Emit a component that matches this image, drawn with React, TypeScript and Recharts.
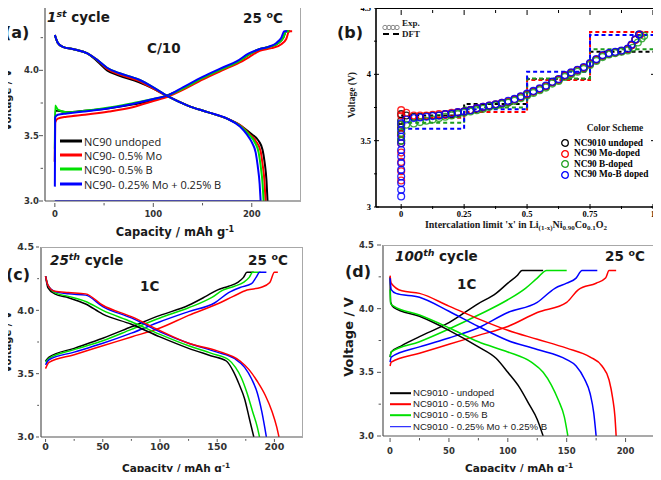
import React from 'react';
import { LineChart, Line, XAxis, YAxis } from 'recharts';

type Pt = [number, number];

// ---------- (a) 1st cycle, C/10 ----------
const aBlackCharge: Pt[] = [[0, 3.3], [0.3, 3.69], [3, 3.69], [12, 3.68], [30, 3.69], [55, 3.71], [80, 3.74], [100, 3.77], [115, 3.81], [130, 3.86], [150, 3.94], [170, 4.01], [185, 4.06], [197, 4.12], [207, 4.16], [218, 4.18], [227, 4.21], [232, 4.25], [235, 4.3], [239, 4.3]];
const aRedCharge: Pt[] = [[0, 3.3], [0.3, 3.6], [3, 3.63], [12, 3.645], [30, 3.66], [55, 3.685], [80, 3.72], [100, 3.765], [115, 3.8], [130, 3.85], [150, 3.93], [170, 4.0], [185, 4.05], [197, 4.1], [208, 4.15], [220, 4.17], [230, 4.2], [235, 4.24], [238, 4.3], [241, 4.3]];
const aGreenCharge: Pt[] = [[0, 3.4], [0.3, 3.73], [3, 3.7], [12, 3.68], [30, 3.69], [55, 3.715], [80, 3.75], [100, 3.78], [115, 3.81], [130, 3.86], [150, 3.94], [170, 4.01], [185, 4.06], [197, 4.12], [207, 4.16], [218, 4.18], [227, 4.21], [232, 4.25], [235, 4.3], [238, 4.3]];
const aBlueCharge: Pt[] = [[0, 3.11], [0.3, 3.64], [3, 3.66], [12, 3.67], [30, 3.685], [55, 3.71], [80, 3.745], [100, 3.78], [115, 3.81], [130, 3.87], [150, 3.95], [170, 4.02], [185, 4.07], [197, 4.13], [207, 4.16], [217, 4.18], [225, 4.21], [230, 4.25], [233, 4.3], [236, 4.3]];

const aBlackDis: Pt[] = [[0, 4.27], [3, 4.21], [8, 4.18], [20, 4.16], [33, 4.13], [43, 4.07], [53, 4.0], [65, 3.96], [85, 3.91], [100, 3.86], [115, 3.8], [135, 3.73], [155, 3.68], [175, 3.63], [190, 3.57], [200, 3.51], [207, 3.46], [211, 3.39], [213, 3.3], [215, 3.15], [216, 3.0]];
const aRedDis: Pt[] = [[0, 4.27], [3, 4.21], [8, 4.18], [20, 4.16], [33, 4.13], [43, 4.08], [53, 4.01], [65, 3.97], [85, 3.92], [100, 3.86], [115, 3.8], [135, 3.73], [155, 3.68], [175, 3.63], [190, 3.57], [198, 3.51], [204, 3.46], [209, 3.38], [211, 3.28], [213, 3.14], [214, 3.0]];
const aGreenDis: Pt[] = [[0, 4.27], [3, 4.21], [8, 4.18], [20, 4.16], [33, 4.13], [43, 4.08], [53, 4.02], [65, 3.98], [85, 3.93], [100, 3.87], [115, 3.8], [135, 3.73], [155, 3.68], [175, 3.63], [189, 3.57], [197, 3.51], [203, 3.45], [207, 3.37], [209, 3.27], [211, 3.13], [212, 3.0]];
const aBlueDis: Pt[] = [[0, 4.27], [3, 4.21], [8, 4.18], [20, 4.16], [33, 4.13], [43, 4.08], [53, 4.02], [65, 3.98], [85, 3.93], [100, 3.87], [115, 3.8], [135, 3.73], [155, 3.68], [175, 3.63], [188, 3.57], [195, 3.51], [200, 3.45], [204, 3.37], [206, 3.27], [208, 3.13], [209, 3.0]];
const aBlueBase: Pt[] = [[0, 3.0], [209, 3.0]];

// ---------- (b) Exp. vs DFT ----------
const bBlackExp: Pt[] = [[0, 3.5], [0, 3.55], [0, 3.6], [0, 3.65], [0, 3.7], [0.02, 3.69], [0.05, 3.68], [0.075, 3.68], [0.1, 3.685], [0.125, 3.69], [0.15, 3.69], [0.175, 3.7], [0.2, 3.7], [0.225, 3.71], [0.25, 3.72], [0.275, 3.73], [0.3, 3.74], [0.325, 3.75], [0.35, 3.76], [0.375, 3.77], [0.4, 3.78], [0.425, 3.79], [0.45, 3.81], [0.475, 3.83], [0.5, 3.85], [0.525, 3.87], [0.55, 3.89], [0.575, 3.91], [0.6, 3.94], [0.625, 3.96], [0.65, 3.99], [0.675, 4.01], [0.7, 4.03], [0.725, 4.05], [0.75, 4.08], [0.775, 4.11], [0.8, 4.14], [0.825, 4.155], [0.85, 4.165], [0.875, 4.175], [0.9, 4.19], [0.915, 4.22], [0.93, 4.26], [0.945, 4.3]];
const bRedExp: Pt[] = [[0, 3.2], [0, 3.27], [0, 3.34], [0, 3.41], [0, 3.48], [0, 3.55], [0, 3.62], [0, 3.69], [0, 3.73], [0.02, 3.71], [0.05, 3.69], [0.075, 3.69], [0.1, 3.69], [0.125, 3.695], [0.15, 3.7], [0.175, 3.7], [0.2, 3.71], [0.225, 3.715], [0.25, 3.72], [0.275, 3.73], [0.3, 3.745], [0.325, 3.755], [0.35, 3.765], [0.375, 3.775], [0.4, 3.785], [0.425, 3.795], [0.45, 3.81], [0.475, 3.83], [0.5, 3.85], [0.525, 3.87], [0.55, 3.89], [0.575, 3.91], [0.6, 3.94], [0.625, 3.96], [0.65, 3.99], [0.675, 4.01], [0.7, 4.03], [0.725, 4.05], [0.75, 4.08], [0.775, 4.11], [0.8, 4.14], [0.825, 4.155], [0.85, 4.165], [0.875, 4.175], [0.9, 4.19], [0.915, 4.22], [0.93, 4.26], [0.95, 4.3]];
const bGreenExp: Pt[] = [[0, 3.5], [0, 3.56], [0, 3.62], [0.02, 3.62], [0.05, 3.63], [0.075, 3.64], [0.1, 3.65], [0.125, 3.66], [0.15, 3.67], [0.175, 3.68], [0.2, 3.69], [0.225, 3.7], [0.25, 3.71], [0.275, 3.72], [0.3, 3.73], [0.325, 3.74], [0.35, 3.755], [0.375, 3.765], [0.4, 3.775], [0.425, 3.785], [0.45, 3.8], [0.475, 3.82], [0.5, 3.84], [0.525, 3.86], [0.55, 3.88], [0.575, 3.9], [0.6, 3.93], [0.625, 3.95], [0.65, 3.98], [0.675, 4.0], [0.7, 4.02], [0.725, 4.04], [0.75, 4.07], [0.775, 4.1], [0.8, 4.13], [0.825, 4.15], [0.85, 4.16], [0.875, 4.17], [0.9, 4.18], [0.92, 4.2], [0.94, 4.24], [0.955, 4.27], [0.965, 4.29]];
const bBlueExp: Pt[] = [[0, 3.08], [0, 3.13], [0, 3.18], [0, 3.23], [0, 3.28], [0, 3.33], [0, 3.38], [0, 3.43], [0, 3.48], [0, 3.53], [0, 3.58], [0, 3.63], [0.02, 3.66], [0.05, 3.67], [0.075, 3.675], [0.1, 3.68], [0.125, 3.685], [0.15, 3.69], [0.175, 3.7], [0.2, 3.705], [0.225, 3.715], [0.25, 3.72], [0.275, 3.73], [0.3, 3.745], [0.325, 3.755], [0.35, 3.765], [0.375, 3.775], [0.4, 3.785], [0.425, 3.8], [0.45, 3.815], [0.475, 3.835], [0.5, 3.855], [0.525, 3.875], [0.55, 3.895], [0.575, 3.915], [0.6, 3.945], [0.625, 3.965], [0.65, 3.995], [0.675, 4.015], [0.7, 4.035], [0.725, 4.055], [0.75, 4.085], [0.775, 4.115], [0.8, 4.145], [0.825, 4.16], [0.85, 4.17], [0.875, 4.18], [0.9, 4.195], [0.915, 4.225], [0.93, 4.265], [0.945, 4.3]];

const bBlackDft: Pt[] = [[0, 3.69], [0.25, 3.777], [0.5, 3.965], [0.75, 4.17], [1.02, 4.17]];
const bRedDft: Pt[] = [[0, 3.673], [0.25, 3.716], [0.5, 3.958], [0.75, 4.32], [1.02, 4.32]];
const bGreenDft: Pt[] = [[0, 3.635], [0.25, 3.75], [0.5, 3.968], [0.75, 4.19], [1.02, 4.19]];
const bBlueDft: Pt[] = [[0, 3.59], [0.25, 3.737], [0.5, 4.02], [0.75, 4.296], [1.02, 4.296]];

// ---------- (c) 25th cycle, 1C ----------
const cBlackCharge: Pt[] = [[0, 3.6], [3, 3.63], [25, 3.7], [50, 3.78], [75, 3.87], [100, 3.96], [125, 4.04], [140, 4.11], [150, 4.16], [160, 4.19], [168, 4.22], [173, 4.26], [176, 4.3], [182, 4.3]];
const cGreenCharge: Pt[] = [[0, 3.59], [3, 3.62], [25, 3.69], [50, 3.76], [75, 3.85], [100, 3.94], [125, 4.02], [145, 4.1], [155, 4.16], [165, 4.19], [173, 4.22], [178, 4.26], [181, 4.3], [188, 4.3]];
const cBlueCharge: Pt[] = [[0, 3.57], [3, 3.61], [25, 3.67], [50, 3.74], [75, 3.82], [100, 3.91], [125, 3.99], [148, 4.06], [160, 4.14], [170, 4.18], [180, 4.21], [184, 4.26], [187, 4.3], [193, 4.3]];
const cRedCharge: Pt[] = [[0, 3.54], [3, 3.59], [25, 3.65], [50, 3.72], [75, 3.79], [100, 3.86], [125, 3.96], [150, 4.05], [164, 4.11], [176, 4.16], [188, 4.18], [196, 4.22], [200, 4.3], [203, 4.3]];

const cBlackDis: Pt[] = [[0, 4.27], [2, 4.18], [8, 4.13], [20, 4.1], [35, 4.05], [50, 3.97], [75, 3.89], [100, 3.79], [125, 3.7], [145, 3.64], [158, 3.6], [164, 3.52], [169, 3.42], [174, 3.3], [178, 3.15], [182, 3.0]];
const cGreenDis: Pt[] = [[0, 4.27], [2, 4.2], [8, 4.14], [20, 4.11], [35, 4.07], [50, 4.0], [75, 3.91], [100, 3.81], [125, 3.72], [145, 3.66], [160, 3.61], [166, 3.55], [171, 3.47], [176, 3.35], [181, 3.2], [185, 3.08], [187, 3.0]];
const cBlueDis: Pt[] = [[0, 4.27], [2, 4.2], [8, 4.15], [20, 4.13], [35, 4.12], [50, 4.03], [75, 3.94], [100, 3.83], [125, 3.74], [150, 3.67], [165, 3.62], [174, 3.55], [180, 3.46], [185, 3.35], [189, 3.2], [193, 3.0]];
const cRedDis: Pt[] = [[0, 4.27], [2, 4.2], [8, 4.15], [20, 4.14], [35, 4.13], [50, 4.04], [75, 3.95], [100, 3.84], [125, 3.74], [150, 3.68], [170, 3.6], [178, 3.53], [185, 3.44], [192, 3.33], [198, 3.2], [202, 3.08], [204, 3.0]];

// ---------- (d) 100th cycle, 1C ----------
const dBlackCharge: Pt[] = [[0, 3.62], [1, 3.66], [10, 3.71], [25, 3.78], [50, 3.89], [75, 4.04], [90, 4.12], [100, 4.2], [108, 4.26], [112, 4.3], [130, 4.3]];
const dGreenCharge: Pt[] = [[0, 3.62], [1, 3.66], [25, 3.74], [50, 3.84], [75, 3.95], [100, 4.07], [115, 4.16], [125, 4.24], [133, 4.3], [150, 4.3]];
const dBlueCharge: Pt[] = [[0, 3.58], [1, 3.62], [25, 3.7], [50, 3.77], [75, 3.85], [100, 3.97], [125, 4.05], [140, 4.16], [150, 4.2], [158, 4.24], [163, 4.3], [176, 4.3]];
const dRedCharge: Pt[] = [[0, 3.55], [1, 3.58], [25, 3.65], [50, 3.72], [75, 3.79], [100, 3.86], [125, 3.97], [150, 4.05], [160, 4.15], [175, 4.2], [183, 4.24], [186, 4.3], [192, 4.3]];

const dBlackDis: Pt[] = [[0, 4.25], [0.5, 4.05], [3, 4.01], [25, 3.94], [50, 3.83], [75, 3.7], [90, 3.61], [100, 3.5], [110, 3.38], [118, 3.25], [125, 3.13], [130, 3.0]];
const dGreenDis: Pt[] = [[0, 4.15], [0.5, 4.04], [3, 4.02], [25, 3.95], [50, 3.85], [75, 3.74], [100, 3.66], [120, 3.58], [130, 3.5], [137, 3.4], [143, 3.28], [148, 3.15], [151, 3.0]];
const dBlueDis: Pt[] = [[0, 4.24], [1, 4.15], [5, 4.12], [25, 4.09], [50, 3.98], [75, 3.86], [100, 3.75], [125, 3.68], [150, 3.6], [158, 3.55], [165, 3.45], [170, 3.33], [173, 3.18], [175, 3.0]];
const dRedDis: Pt[] = [[0, 4.26], [1, 4.2], [10, 4.14], [25, 4.12], [50, 4.02], [75, 3.92], [100, 3.83], [125, 3.76], [150, 3.69], [170, 3.62], [180, 3.55], [186, 3.44], [189, 3.3], [191, 3.15], [192, 3.0]];

// ---------- ticks & labels ----------
const vTicks = [3, 3.25, 3.5, 3.75, 4, 4.25, 4.5];
const vMajors = [3, 3.5, 4, 4.5];
const aCapTicks = [0, 50, 100, 150, 200];
const aCapMajors = [0, 100, 200];
const capTicks = [0, 25, 50, 75, 100, 125, 150, 175, 200];
const capMajors = [0, 50, 100, 150, 200];
const xTicks = [0, 0.125, 0.25, 0.375, 0.5, 0.625, 0.75, 0.875, 1];
const xMajors = [0, 0.25, 0.5, 0.75, 1];

const aLegend = ['NC90 undoped', 'NC90- 0.5% Mo', 'NC90- 0.5% B', 'NC90- 0.25% Mo + 0.25% B'];
const bLegend = ['NC9010 undoped', 'NC90 Mo-doped', 'NC90 B-doped', 'NC90 Mo-B doped'];
const dLegend = ['NC9010 - undoped', 'NC9010 - 0.5% Mo', 'NC9010 - 0.5% B', 'NC9010 - 0.25% Mo + 0.25% B'];

const SANS = '"DejaVu Sans", Verdana, sans-serif';
const SERIF = '"Liberation Serif", "Times New Roman", serif';
const K = '#000000';
const R = '#ff0000';
const G = '#00e000';
const B = '#0000ff';
const GB = '#1f9f1f';
const AX = '#555555';
const FRAME = '#a8a8a8';
const TXT = '#1a1a1a';

// chart boxes: position on the page, size, margins and axis sizes
type Box = { left: number; top: number; w: number; h: number; mt: number; mr: number; yw: number; xh: number };
const boxA: Box = { left: 0, top: -4, w: 310, h: 244, mt: 9, mr: 9, yw: 45, xh: 39 };
const boxB: Box = { left: 330, top: -4, w: 331, h: 244, mt: 12, mr: 3, yw: 46, xh: 33 };
const boxC: Box = { left: 0, top: 236, w: 310, h: 244, mt: 11, mr: 7, yw: 41, xh: 43 };
const boxD: Box = { left: 330, top: 236, w: 331, h: 244, mt: 9, mr: 6, yw: 53, xh: 44 };
const plotW = (b: Box) => b.w - b.yw - b.mr;
const plotH = (b: Box) => b.h - b.mt - b.xh;

const rows = (p: Pt[]) => p.map(([c, v]) => ({ c, v }));

type TickSpec = {
  side: 'bottom' | 'left';
  majors: number[];
  major: number; // outward length, negative = inward
  minor: number;
  gap: number;
  size: number;
  font: string;
  color: string;
  stroke: string;
  span?: number; // distance to the opposite side of the frame, for mirrored inward ticks
  fmt?: (v: number) => string;
};

function AxisTick(props: any) {
  const { x, y, payload, spec } = props;
  const s: TickSpec = spec;
  const v = payload.value;
  const isMajor = s.majors.some((m) => Math.abs(m - v) < 1e-9);
  const len = isMajor ? s.major : s.minor;
  const text = s.fmt ? s.fmt(v) : String(v);
  const tStyle = { fontFamily: s.font, fontSize: s.size, fontWeight: 700, fill: s.color };
  if (s.side === 'bottom') {
    return (
      <g>
        <line x1={x} x2={x} y1={y} y2={y + len} stroke={s.stroke} strokeWidth={1} />
        {s.span !== undefined && <line x1={x} x2={x} y1={y - s.span} y2={y - s.span - len} stroke={s.stroke} strokeWidth={1} />}
        {isMajor && <text x={x} y={y + s.gap} dy="0.35em" textAnchor="middle" style={tStyle}>{text}</text>}
      </g>
    );
  }
  return (
    <g>
      <line x1={x} x2={x - len} y1={y} y2={y} stroke={s.stroke} strokeWidth={1} />
      {s.span !== undefined && <line x1={x + s.span} x2={x + s.span + len} y1={y} y2={y} stroke={s.stroke} strokeWidth={1} />}
      {isMajor && <text x={x - s.gap} y={y} dy="0.35em" textAnchor="end" style={tStyle}>{text}</text>}
    </g>
  );
}

const tickOf = (spec: TickSpec) => (p: any) => <AxisTick {...p} spec={spec} />;

const Txt = ({ x, y, size, children, font = SANS, weight = 700, center = false, color = TXT }: any) => (
  <div
    style={{
      position: 'absolute', left: x, top: y, transform: center ? 'translate(-50%, -50%)' : 'translateY(-50%)',
      fontFamily: font, fontSize: size, fontWeight: weight, color, whiteSpace: 'nowrap', lineHeight: 1,
    }}
  >
    {children}
  </div>
);

const VTitle = ({ x, y, size, children, font = SANS }: any) => (
  <div
    style={{
      position: 'absolute', left: x, top: y, transform: 'translate(-50%, -50%) rotate(-90deg)',
      fontFamily: font, fontSize: size, fontWeight: 700, color: TXT, whiteSpace: 'nowrap', lineHeight: 1,
    }}
  >
    {children}
  </div>
);

const Sup = ({ children }: any) => <span style={{ fontSize: '0.7em', position: 'relative', top: '-0.5em' }}>{children}</span>;
const Sub = ({ children }: any) => <span style={{ fontSize: '0.7em', position: 'relative', top: '0.35em' }}>{children}</span>;

// top/right sides of a plot frame
const Frame = ({ box, color, width }: { box: Box; color: string; width: number }) => (
  <div
    style={{
      position: 'absolute', left: box.left + box.yw, top: box.top + box.mt, width: plotW(box), height: plotH(box),
      borderTop: `${width}px solid ${color}`, borderRight: `${width}px solid ${color}`, boxSizing: 'border-box', pointerEvents: 'none',
    }}
  />
);

const curve = (id: string, data: Pt[], color: string, w: number) => (
  <Line key={id} data={rows(data)} dataKey="v" type="monotone" stroke={color} strokeWidth={w} dot={false} isAnimationActive={false} />
);

const expSeries = (id: string, data: Pt[], color: string) => (
  <Line
    key={id}
    data={rows(data)}
    dataKey="v"
    type="linear"
    stroke="none"
    dot={{ r: 3.4, fill: 'none', stroke: color, strokeWidth: 1.3, strokeOpacity: 0.85 }}
    isAnimationActive={false}
  />
);

const dftSeries = (id: string, data: Pt[], color: string) => (
  <Line key={id} data={rows(data)} dataKey="v" type="stepAfter" stroke={color} strokeWidth={2} strokeDasharray="4 3" dot={false} isAnimationActive={false} />
);

// Origin-style panel: dark axes left/bottom with outward ticks
const originAxes = (box: Box, xDomain: number[], xt: number[], xm: number[], xGap: number, xSize: number, yGap: number, ySize: number, tl: number) => [
  <XAxis key="xb" type="number" dataKey="c" domain={xDomain} ticks={xt} interval={0} allowDataOverflow tickSize={0} tickLine={false} height={box.xh}
    axisLine={{ stroke: AX, strokeWidth: 1.2 }}
    tick={tickOf({ side: 'bottom', majors: xm, major: tl, minor: tl * 0.6, gap: xGap, size: xSize, font: SANS, color: '#333', stroke: AX })} />,
  <YAxis key="yl" type="number" domain={[3, 4.5]} ticks={vTicks} interval={0} allowDataOverflow tickSize={0} tickLine={false} width={box.yw}
    axisLine={{ stroke: AX, strokeWidth: 1.2 }}
    tick={tickOf({ side: 'left', majors: vMajors, major: tl, minor: tl * 0.6, gap: yGap, size: ySize, font: SANS, color: '#333', stroke: AX, fmt: (v) => v.toFixed(1) })} />,
];

const chartAt = (box: Box, children: React.ReactNode) => (
  <div style={{ position: 'absolute', left: box.left, top: box.top }}>
    <LineChart width={box.w} height={box.h} margin={{ top: box.mt, right: box.mr, left: 0, bottom: 0 }}>
      {children}
    </LineChart>
  </div>
);

const LegendLines = ({ x, ys, labels, colors, size, font, lineLen, thick }: any) => (
  <>
    {labels.map((l: string, i: number) => (
      <div key={l} style={{ position: 'absolute', left: x, top: ys[i], transform: 'translateY(-50%)', height: size, display: 'flex', alignItems: 'center', whiteSpace: 'nowrap' }}>
        <div style={{ width: lineLen, height: thick, background: colors[i], marginRight: 2 }} />
        <span style={{ fontFamily: font, fontSize: size, color: TXT, lineHeight: `${size}px` }}>{l}</span>
      </div>
    ))}
  </>
);

export default function App() {
  return (
    <div style={{ position: 'relative', width: 661, height: 480, margin: -8, background: '#fff', overflow: 'hidden' }}>
      {/* (a) */}
      {chartAt(boxA, [
        ...originAxes(boxA, [-10, 250], aCapTicks, aCapMajors, 11, 8.5, 4, 8.5, 4),
        curve('abb', aBlueBase, B, 1.5),
        curve('akc', aBlackCharge, K, 2),
        curve('arc', aRedCharge, R, 2),
        curve('agc', aGreenCharge, G, 2),
        curve('abc', aBlueCharge, B, 2),
        curve('akd', aBlackDis, K, 2),
        curve('ard', aRedDis, R, 2),
        curve('agd', aGreenDis, G, 2),
        curve('abd', aBlueDis, B, 2),
      ])}
      <Frame box={boxA} color={FRAME} width={1} />
      <Txt x={4} y={33} size={16}>(a)</Txt>
      <Txt x={47} y={18} size={13.5}><i>1<Sup>st</Sup></i> cycle</Txt>
      <Txt x={243} y={19} size={13.5}>25 <Sup>o</Sup>C</Txt>
      <Txt x={147} y={49} size={13.5}>C/10</Txt>
      <LegendLines x={60} ys={[140.7, 154.5, 169.3, 184]} labels={aLegend} colors={[K, R, G, B]} size={11} font='"Open Sans", sans-serif' lineLen={22} thick={3} />
      <VTitle x={8} y={100} size={10}>Voltage / V</VTitle>
      <Txt x={175} y={233} size={11.5} center>Capacity / mAh g<Sup>-1</Sup></Txt>

      {/* (b) */}
      {chartAt(boxB, [
        <XAxis key="xb" type="number" dataKey="c" domain={[-0.1, 1.02]} ticks={xTicks} interval={0} allowDataOverflow tickSize={0} tickLine={false} height={boxB.xh}
          axisLine={{ stroke: K, strokeWidth: 1.6 }}
          tick={tickOf({ side: 'bottom', majors: xMajors, major: -5, minor: -3, gap: 5.5, size: 8.5, font: SERIF, color: K, stroke: K, span: plotH(boxB) })} />,
        <YAxis key="yl" type="number" domain={[3, 4.5]} ticks={vTicks} interval={0} allowDataOverflow tickSize={0} tickLine={false} width={boxB.yw}
          axisLine={{ stroke: K, strokeWidth: 1.6 }}
          tick={tickOf({ side: 'left', majors: vMajors, major: -5, minor: -3, gap: 3, size: 8.5, font: SERIF, color: K, stroke: K, span: plotW(boxB) })} />,
        expSeries('bke', bBlackExp, K),
        expSeries('bre', bRedExp, R),
        expSeries('bge', bGreenExp, GB),
        expSeries('bbe', bBlueExp, B),
        dftSeries('bkd', bBlackDft, K),
        dftSeries('brd', bRedDft, R),
        dftSeries('bgd', bGreenDft, GB),
        dftSeries('bbd', bBlueDft, B),
      ])}
      <Frame box={boxB} color={K} width={1.6} />
      <Txt x={337} y={33} size={16}>(b)</Txt>
      <div style={{ position: 'absolute', left: 382, top: 18 }}>
        <svg width={19} height={9}>
          {[3, 7, 11, 15].map((cx) => <circle key={cx} cx={cx} cy={4.5} r={2.2} fill="none" stroke="#888" strokeWidth={1} />)}
        </svg>
      </div>
      <Txt x={402} y={23} size={9} font={SERIF}>Exp.</Txt>
      <div style={{ position: 'absolute', left: 383, top: 33, width: 16, borderTop: '2px dashed #000' }} />
      <Txt x={402} y={34} size={9} font={SERIF}>DFT</Txt>
      <Txt x={615} y={129} size={9.5} font={SERIF} center>Color Scheme</Txt>
      {bLegend.map((l, i) => (
        <div key={l} style={{ position: 'absolute', left: 560, top: [143.3, 154, 164.3, 174.5][i], transform: 'translateY(-50%)', display: 'flex', alignItems: 'center', whiteSpace: 'nowrap' }}>
          <svg width={10} height={10} style={{ marginRight: 4 }}>
            <circle cx={5} cy={5} r={3.3} fill="none" stroke={[K, R, GB, B][i]} strokeWidth={1.3} />
          </svg>
          <span style={{ fontFamily: SERIF, fontSize: 9.3, fontWeight: 700, color: K, lineHeight: 1 }}>{l}</span>
        </div>
      ))}
      <VTitle x={353} y={95} size={9.5} font={SERIF}>Voltage (V)</VTitle>
      <Txt x={516} y={225} size={10} font={SERIF} center>
        Intercalation limit 'x' in Li<Sub>(1-x)</Sub>Ni<Sub>0.90</Sub>Co<Sub>0.1</Sub>O<Sub>2</Sub>
      </Txt>

      {/* (c) */}
      {chartAt(boxC, [
        ...originAxes(boxC, [-4, 225], capTicks, capMajors, 8, 9.5, 5, 9.5, 3),
        curve('ckc', cBlackCharge, K, 1.5),
        curve('cgc', cGreenCharge, G, 1.5),
        curve('cbc', cBlueCharge, B, 1.5),
        curve('crc', cRedCharge, R, 1.5),
        curve('ckd', cBlackDis, K, 1.5),
        curve('cgd', cGreenDis, G, 1.5),
        curve('cbd', cBlueDis, B, 1.5),
        curve('crd', cRedDis, R, 1.5),
      ])}
      <Frame box={boxC} color={FRAME} width={1} />
      <Txt x={6} y={275} size={16}>(c)</Txt>
      <Txt x={50} y={261} size={13.5}><i>25<Sup>th</Sup></i> cycle</Txt>
      <Txt x={248} y={261} size={13.5}>25 <Sup>o</Sup>C</Txt>
      <Txt x={140} y={287} size={13.5}>1C</Txt>
      <VTitle x={8} y={342} size={10}>Voltage / V</VTitle>
      <Txt x={176} y={468} size={10.5} center>Capacity / mAh g<Sup>-1</Sup></Txt>

      {/* (d) */}
      {chartAt(boxD, [
        ...originAxes(boxD, [-6, 225], capTicks, capMajors, 13, 8.5, 7, 8.5, 4),
        curve('dkc', dBlackCharge, K, 1.5),
        curve('drc', dRedCharge, R, 1.5),
        curve('dgc', dGreenCharge, G, 1.5),
        curve('dbc', dBlueCharge, B, 1.5),
        curve('dkd', dBlackDis, K, 1.5),
        curve('drd', dRedDis, R, 1.5),
        curve('dgd', dGreenDis, G, 1.5),
        curve('dbd', dBlueDis, B, 1.5),
      ])}
      <Frame box={boxD} color={FRAME} width={1} />
      <Txt x={345} y={272} size={16}>(d)</Txt>
      <Txt x={395} y={257} size={13.5}><i>100<Sup>th</Sup></i> cycle</Txt>
      <Txt x={605} y={257} size={13.5}>25 <Sup>o</Sup>C</Txt>
      <Txt x={457} y={285} size={13.5}>1C</Txt>
      <LegendLines x={390} ys={[393.3, 404, 415, 426.7]} labels={dLegend} colors={[K, R, G, B]} size={9.6} font='"Liberation Sans", Arial, sans-serif' lineLen={21} thick={1.6} />
      <VTitle x={348} y={337} size={13}>Voltage / V</VTitle>
      <Txt x={519} y={468} size={10.5} center>Capacity / mAh g<Sup>-1</Sup></Txt>
    </div>
  );
}
